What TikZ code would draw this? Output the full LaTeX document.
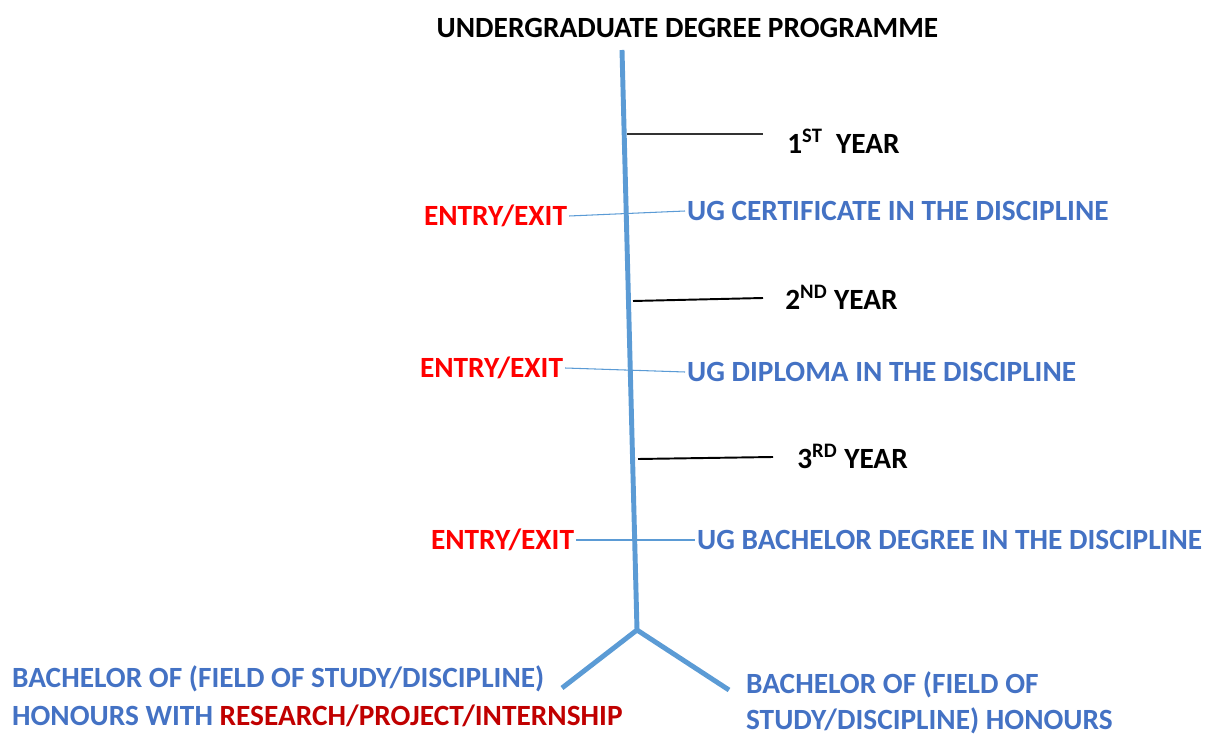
\documentclass[tikz,border=0pt]{standalone}
\usepackage{fontspec}
\setmainfont{Carlito}
\definecolor{ugblue}{HTML}{4472C4}
\definecolor{stemblue}{HTML}{5B9BD5}
\definecolor{darkred}{HTML}{C00000}
\tikzset{
  yeartxt/.style={anchor=west,inner sep=0pt,font=\fontsize{16.7}{20}\bfseries\selectfont},
  exittxt/.style={text=red,inner sep=1pt,font=\fontsize{16.7}{20}\bfseries\selectfont},
  ugtxt/.style={anchor=west,text=ugblue,inner sep=1pt,font=\fontsize{16.7}{20}\bfseries\selectfont},
  stem/.style={stemblue,line width=2.8pt},
  tick/.style={stemblue,line width=0.6pt}
}
\begin{document}
\begin{tikzpicture}

\useasboundingbox (0,0) rectangle (24.16,-14.7);

\node[font=\fontsize{16.7}{20}\bfseries\selectfont] (title) at (13.75,-0.56) {UNDERGRADUATE DEGREE PROGRAMME};

\coordinate (top) at (12.44,-1.0);
\coordinate (fork) at (12.74,-12.6);
\coordinate (endL) at (11.24,-13.76);
\coordinate (endR) at (14.58,-13.8);
\draw[stem] (top) -- (fork);
\draw[stem] (endL) -- (fork) -- (endR);

%years
\coordinate (y1a) at (12.54,-2.68);
\coordinate (y1b) at (15.26,-2.68);
\draw[black!80,line width=0.8pt] (y1a) -- (y1b);
\node[yeartxt] (Y1) at (15.74,-2.82) {1\textsuperscript{ST}\ \ YEAR};

\coordinate (y2a) at (12.66,-6.02);
\coordinate (y2b) at (15.26,-5.96);
\draw[line width=1.1pt] (y2a) -- (y2b);
\node[yeartxt] (Y2) at (15.7,-5.94) {2\textsuperscript{ND} YEAR};

\coordinate (y3a) at (12.76,-9.18);
\coordinate (y3b) at (15.46,-9.14);
\draw[line width=1.1pt] (y3a) -- (y3b);
\node[yeartxt] (Y3) at (15.94,-9.12) {3\textsuperscript{RD} YEAR};

%entry / exit
\node[exittxt] (E1) at (9.91,-4.32) {ENTRY/EXIT};
\node[ugtxt] (U1) at (13.7,-4.22) {UG CERTIFICATE IN THE DISCIPLINE};
\draw[tick] (E1.east) -- (U1.west);

\node[exittxt] (E2) at (9.83,-7.36) {ENTRY/EXIT};
\node[ugtxt] (U2) at (13.7,-7.44) {UG DIPLOMA IN THE DISCIPLINE};
\draw[tick] (E2.east) -- (U2.west);

\node[exittxt] (E3) at (10.05,-10.8) {ENTRY/EXIT};
\node[ugtxt] (U3) at (13.9,-10.8) {UG BACHELOR DEGREE IN THE DISCIPLINE};
\draw[tick] (E3.east) -- (U3.west);

%honours
\node[ugtxt,anchor=north west,align=left,font=\fontsize{16.7}{21.6}\bfseries\selectfont] (H1) at (0.2,-13.28)
  {BACHELOR OF (FIELD OF STUDY/DISCIPLINE)\\HONOURS WITH \textcolor{darkred}{RESEARCH/PROJECT/INTERNSHIP}};
\node[ugtxt,anchor=north west,align=left,font=\fontsize{16.7}{20.4}\bfseries\selectfont] (H2) at (14.88,-13.4)
  {BACHELOR OF (FIELD OF\\STUDY/DISCIPLINE) HONOURS};

\end{tikzpicture}
\end{document}
